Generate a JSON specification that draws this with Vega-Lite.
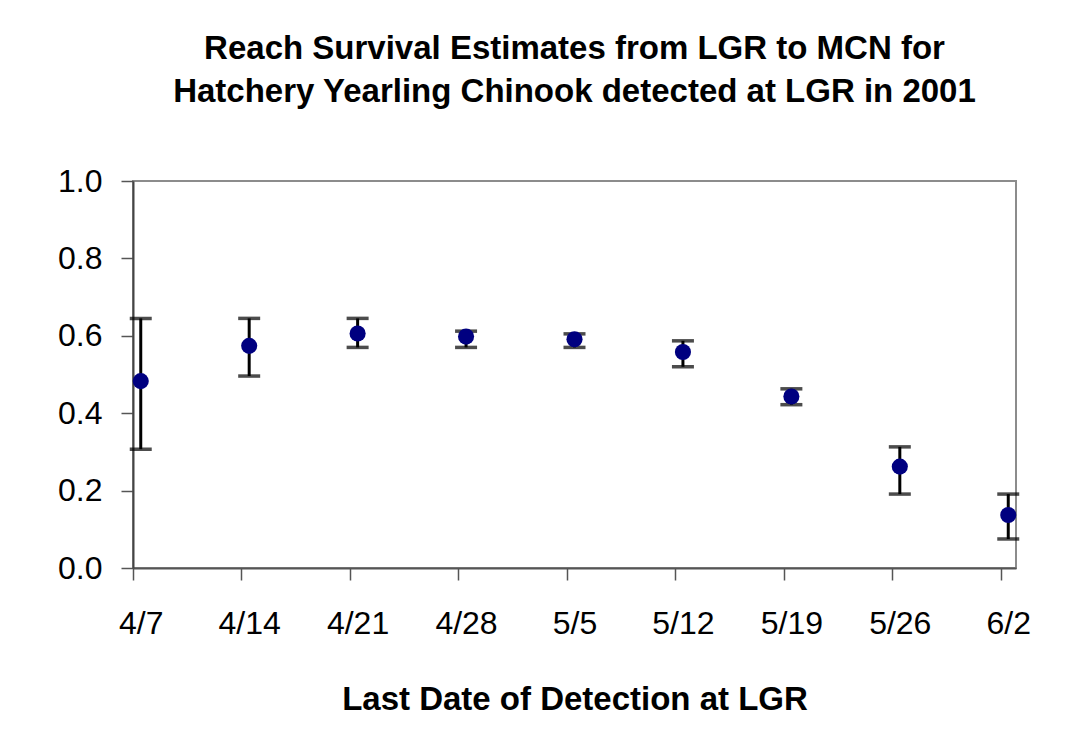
{
  "$schema": "https://vega.github.io/schema/vega-lite/v6.json",
  "autosize": "none",
  "width": 883,
  "height": 387,
  "padding": {"left": 133, "top": 181, "right": 67, "bottom": 170},
  "background": "white",
  "title": {
    "text": ["Reach Survival Estimates from LGR to MCN for", "Hatchery Yearling Chinook detected at LGR in 2001"],
    "font": "Liberation Sans",
    "fontSize": 33,
    "fontWeight": "bold",
    "color": "black",
    "anchor": "middle",
    "frame": "group",
    "lineHeight": 43,
    "offset": 56
  },
  "data": {
    "values": [
      {"date": "2001-04-07T12:00:00Z", "est": 0.483, "lo": 0.307, "hi": 0.645},
      {"date": "2001-04-14T12:00:00Z", "est": 0.574, "lo": 0.496, "hi": 0.645},
      {"date": "2001-04-21T12:00:00Z", "est": 0.606, "lo": 0.570, "hi": 0.645},
      {"date": "2001-04-28T12:00:00Z", "est": 0.598, "lo": 0.570, "hi": 0.612},
      {"date": "2001-05-05T12:00:00Z", "est": 0.591, "lo": 0.570, "hi": 0.605},
      {"date": "2001-05-12T12:00:00Z", "est": 0.558, "lo": 0.520, "hi": 0.587},
      {"date": "2001-05-19T12:00:00Z", "est": 0.443, "lo": 0.422, "hi": 0.463},
      {"date": "2001-05-26T12:00:00Z", "est": 0.262, "lo": 0.191, "hi": 0.313},
      {"date": "2001-06-02T12:00:00Z", "est": 0.137, "lo": 0.075, "hi": 0.191}
    ]
  },
  "encoding": {
    "x": {
      "field": "date",
      "type": "temporal",
      "scale": {
        "type": "utc",
        "domain": [
          {"year": 2001, "month": 4, "date": 7, "utc": true},
          {"year": 2001, "month": 6, "date": 3, "utc": true}
        ]
      },
      "axis": {
        "title": "Last Date of Detection at LGR",
        "values": [
          {"year": 2001, "month": 4, "date": 7, "utc": true},
          {"year": 2001, "month": 4, "date": 14, "utc": true},
          {"year": 2001, "month": 4, "date": 21, "utc": true},
          {"year": 2001, "month": 4, "date": 28, "utc": true},
          {"year": 2001, "month": 5, "date": 5, "utc": true},
          {"year": 2001, "month": 5, "date": 12, "utc": true},
          {"year": 2001, "month": 5, "date": 19, "utc": true},
          {"year": 2001, "month": 5, "date": 26, "utc": true},
          {"year": 2001, "month": 6, "date": 2, "utc": true}
        ],
        "labelExpr": "utcFormat(datum.value, '%-m/%-d')",
        "labelOffset": 7.7,
        "labelFlush": false,
        "labelOverlap": false,
        "labelPadding": 28,
        "labelFontSize": 32,
        "labelFont": "Liberation Sans",
        "labelColor": "black",
        "titleFont": "Liberation Sans",
        "titleFontSize": 33,
        "titleFontWeight": "bold",
        "titleColor": "black",
        "titlePadding": 44,
        "grid": false,
        "tickSize": 12,
        "tickWidth": 1.5,
        "tickColor": "#555555",
        "domainColor": "#555555",
        "domainWidth": 2
      }
    }
  },
  "layer": [
    {
      "mark": {"type": "rule", "color": "black", "strokeWidth": 3},
      "encoding": {
        "y": {"field": "lo", "type": "quantitative"},
        "y2": {"field": "hi"}
      }
    },
    {
      "mark": {"type": "tick", "color": "black", "orient": "horizontal", "size": 22, "thickness": 3.5},
      "encoding": {"y": {"field": "lo", "type": "quantitative"}}
    },
    {
      "mark": {"type": "tick", "color": "black", "orient": "horizontal", "size": 22, "thickness": 3.5},
      "encoding": {"y": {"field": "hi", "type": "quantitative"}}
    },
    {
      "mark": {"type": "point", "shape": "circle", "filled": true, "color": "#000080", "opacity": 1, "size": 260},
      "encoding": {
        "y": {
          "field": "est",
          "type": "quantitative",
          "scale": {"domain": [0, 1], "nice": false, "zero": true},
          "axis": {
            "title": null,
            "values": [0, 0.2, 0.4, 0.6, 0.8, 1.0],
            "format": ".1f",
            "labelFontSize": 32,
            "labelFont": "Liberation Sans",
            "labelColor": "black",
            "labelPadding": 19,
            "grid": false,
            "tickSize": 12,
            "tickWidth": 1.5,
            "tickColor": "#555555",
            "domainColor": "#444444",
            "domainWidth": 2
          }
        }
      }
    }
  ],
  "config": {
    "view": {"stroke": "#8c8c8c", "strokeWidth": 2}
  }
}
